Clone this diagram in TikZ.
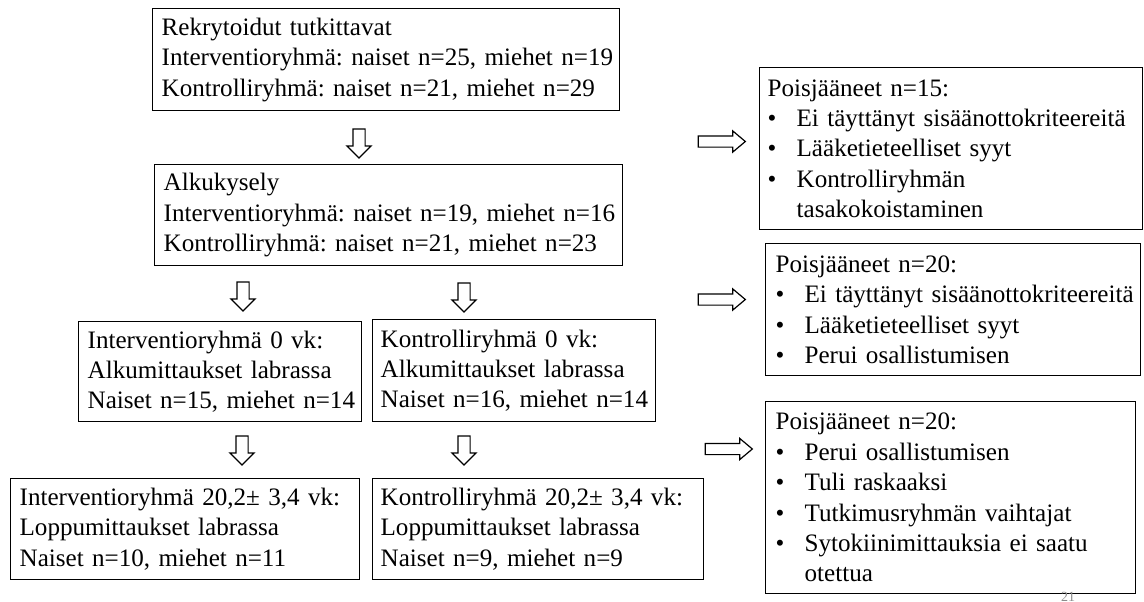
\documentclass[tikz,border=0pt]{standalone}
\usepackage{fontspec}
\setmainfont{Liberation Serif}
\usetikzlibrary{shapes.arrows}
\frenchspacing
\newcommand\bitem[1]{\makebox[29pt][l]{•}#1}
\tikzset{
  box/.style={draw, line width=1.3pt, anchor=north west, inner xsep=9pt, inner ysep=0pt,
    align=left, font=\fontsize{25.1}{30.4}\selectfont\frenchspacing},
  darr/.style={single arrow, draw, line width=1.2pt, fill=white, inner xsep=0pt, inner ysep=5.5pt,
    minimum height=29pt, single arrow head extend=6pt, rotate=-90},
  rarr/.style={single arrow, draw, line width=1.2pt, fill=white, inner xsep=0pt, inner ysep=5pt,
    minimum height=47pt, single arrow head extend=5pt,
    single arrow tip angle=80},
}
\begin{document}
\begin{tikzpicture}[x=1pt,y=-1pt]
\useasboundingbox (0,0) rectangle (1144,602);
% left column
\node[box, minimum width=467pt, minimum height=102pt, text width=449pt] (b1) at (152,8)
  {\mbox{Rekrytoidut tutkittavat}\\
   \mbox{Interventioryhmä: naiset n=25, miehet n=19}\\
   \mbox{Kontrolliryhmä: naiset n=21, miehet n=29}};
\node[box, minimum width=468pt, minimum height=101pt, text width=450pt] (b2) at (154,164)
  {\mbox{Alkukysely}\\
   \mbox{Interventioryhmä: naiset n=19, miehet n=16}\\
   \mbox{Kontrolliryhmä: naiset n=21, miehet n=23}};
\node[box, minimum width=283pt, minimum height=100pt, text width=265pt] (b3) at (78,321)
  {\mbox{Interventioryhmä 0 vk:}\\
   \mbox{Alkumittaukset labrassa}\\
   \mbox{Naiset n=15, miehet n=14}};
\node[box, minimum width=283pt, minimum height=102pt, text width=267pt, inner xsep=8pt] (b4) at (372,319)
  {\mbox{Kontrolliryhmä 0 vk:}\\
   \mbox{Alkumittaukset labrassa}\\
   \mbox{Naiset n=16, miehet n=14}};
\node[box, minimum width=349pt, minimum height=101pt, text width=331pt] (b5) at (10,478)
  {\mbox{Interventioryhmä 20,2± 3,4 vk:}\\
   \mbox{Loppumittaukset labrassa}\\
   \mbox{Naiset n=10, miehet n=11}};
\node[box, minimum width=331pt, minimum height=101pt, text width=315pt, inner xsep=8pt] (b6) at (372,478)
  {\mbox{Kontrolliryhmä 20,2± 3,4 vk:}\\
   \mbox{Loppumittaukset labrassa}\\
   \mbox{Naiset n=9, miehet n=9}};
% right column
\node[box, minimum width=383pt, minimum height=162pt, text width=367pt, inner xsep=8pt] (r1) at (759,67)
  {\mbox{Poisjääneet n=15:}\\
   \mbox{\bitem{Ei täyttänyt sisäänottokriteereitä}}\\
   \mbox{\bitem{Lääketieteelliset syyt}}\\
   \mbox{\bitem{Kontrolliryhmän}}\\
   \mbox{\hspace*{29pt}tasakokoistaminen}};
\node[box, minimum width=375pt, minimum height=132pt, text width=355pt, inner xsep=10pt] (r2) at (765,243)
  {\mbox{Poisjääneet n=20:}\\
   \mbox{\bitem{Ei täyttänyt sisäänottokriteereitä}}\\
   \mbox{\bitem{Lääketieteelliset syyt}}\\
   \mbox{\bitem{Perui osallistumisen}}};
\node[box, minimum width=370pt, minimum height=192pt, text width=350pt, inner xsep=10pt] (r3) at (765,401)
  {\mbox{Poisjääneet n=20:}\\
   \mbox{\bitem{Perui osallistumisen}}\\
   \mbox{\bitem{Tuli raskaaksi}}\\
   \mbox{\bitem{Tutkimusryhmän vaihtajat}}\\
   \mbox{\bitem{Sytokiinimittauksia ei saatu}}\\
   \mbox{\hspace*{29pt}otettua}};
% down arrows
\node[darr] (a1) at (359,140.5) {};
\node[darr] (a2l) at (243,293.5) {};
\node[darr] (a2r) at (464,294.5) {};
\node[darr] (a3l) at (242,447.5) {};
\node[darr] (a3r) at (464,447.5) {};
% right arrows
\node[rarr] (ra1) at (718.5,141.5) {};
\node[rarr] (ra2) at (718.5,299.5) {};
\node[rarr] (ra3) at (725.5,449) {};
% page number
\node[anchor=base, inner sep=0pt, font=\fontsize{14}{16}\selectfont, text=black!45] (pg) at (1068,601) {21};
\end{tikzpicture}
\end{document}
